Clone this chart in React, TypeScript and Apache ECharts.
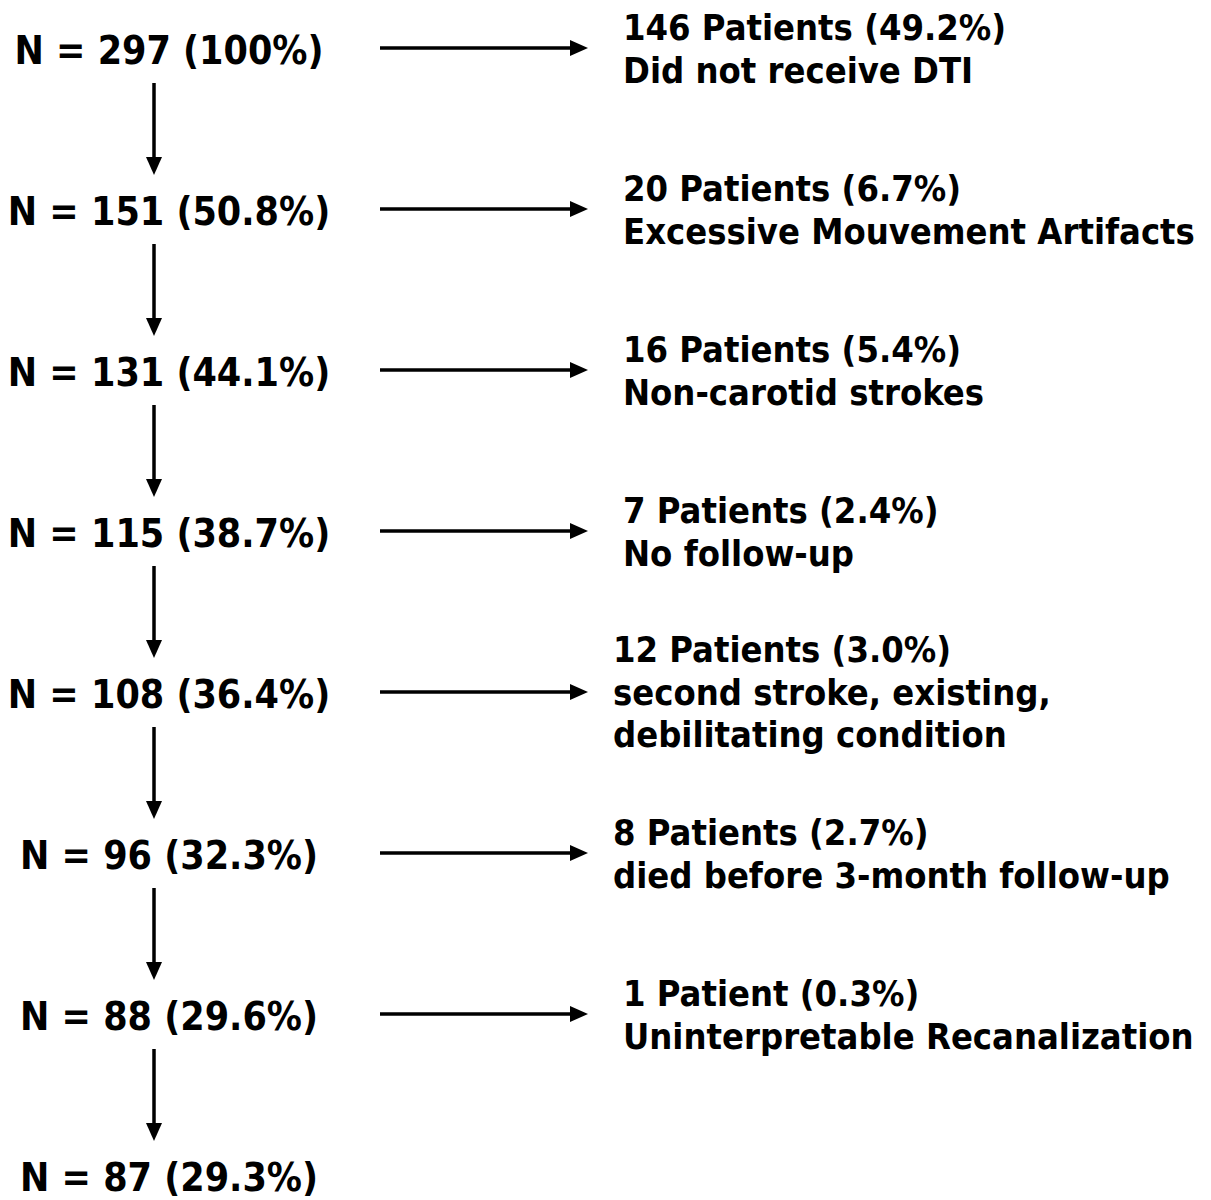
import React, { useEffect, useRef } from "react";
import * as echarts from "echarts";

// ---- data ----
const remainingN: number[] = [297, 151, 131, 115, 108, 96, 88, 87];
const remainingPct: string[] = ["100%", "50.8%", "44.1%", "38.7%", "36.4%", "32.3%", "29.6%", "29.3%"];
const excludedN: number[] = [146, 20, 16, 7, 12, 8, 1];
const excludedPct: string[] = ["49.2%", "6.7%", "5.4%", "2.4%", "3.0%", "2.7%", "0.3%"];
const excludedReason: string[] = [
  "Did not receive DTI",
  "Excessive Mouvement Artifacts",
  "Non-carotid strokes",
  "No follow-up",
  "second stroke, existing,\ndebilitating condition",
  "died before 3-month follow-up",
  "Uninterpretable Recanalization",
];

// ---- layout ----
const FONT = "'DejaVu Sans Condensed', 'DejaVu Sans', sans-serif";
const LEFT_FONT_SIZE = 39;
const RIGHT_FONT_SIZE = 36;
const ROW_Y0 = 50;
const ROW_STEP = 161;
const LEFT_CX = 169;
const VARROW_X = 154;
const HARROW_X1 = 380;
const HARROW_X2 = 588;
const RIGHT_X_DEFAULT = 623;
const RIGHT_X_SHIFTED = 613;
const LINE_H = 42.5;

export default function App() {
  const ref = useRef<HTMLDivElement>(null);

  useEffect(() => {
    if (!ref.current) return;
    const chart = echarts.init(ref.current, null, { renderer: "svg" });
    const elements: any[] = [];
    const black = "#000";

    remainingN.forEach((n, i) => {
      const y = ROW_Y0 + i * ROW_STEP;
      elements.push({
        type: "text",
        x: LEFT_CX,
        y,
        style: {
          text: `N = ${n} (${remainingPct[i]})`,
          font: `bold ${LEFT_FONT_SIZE}px ${FONT}`,
          fill: black,
          align: "center",
          verticalAlign: "middle",
        },
      });
      if (i < remainingN.length - 1) {
        const yStart = y + 33;
        const yTip = y + ROW_STEP - 36;
        elements.push({
          type: "line",
          shape: { x1: VARROW_X, y1: yStart, x2: VARROW_X, y2: yTip - 14 },
          style: { stroke: black, lineWidth: 3.5 },
        });
        elements.push({
          type: "polygon",
          shape: {
            points: [
              [VARROW_X - 8, yTip - 18],
              [VARROW_X + 8, yTip - 18],
              [VARROW_X, yTip],
            ],
          },
          style: { fill: black },
        });
      }
    });

    excludedN.forEach((n, i) => {
      const ay = ROW_Y0 + i * ROW_STEP - 2;
      elements.push({
        type: "line",
        shape: { x1: HARROW_X1, y1: ay, x2: HARROW_X2 - 14, y2: ay },
        style: { stroke: black, lineWidth: 3.5 },
      });
      elements.push({
        type: "polygon",
        shape: {
          points: [
            [HARROW_X2 - 18, ay - 8],
            [HARROW_X2 - 18, ay + 8],
            [HARROW_X2, ay],
          ],
        },
        style: { fill: black },
      });
      const label = `${n} Patient${n === 1 ? "" : "s"} (${excludedPct[i]})\n${excludedReason[i]}`;
      const shifted = i === 4 || i === 5;
      const lines = label.split("\n").length;
      const centerOffset = lines === 2 ? 1 : 0;
      elements.push({
        type: "text",
        x: shifted ? RIGHT_X_SHIFTED : RIGHT_X_DEFAULT,
        y: ay + centerOffset,
        style: {
          text: label,
          font: `bold ${RIGHT_FONT_SIZE}px ${FONT}`,
          fill: black,
          align: "left",
          verticalAlign: "middle",
          lineHeight: LINE_H,
        },
      });
    });

    chart.setOption({
      animation: false,
      backgroundColor: "#fff",
      graphic: { elements },
    });
    return () => chart.dispose();
  }, []);

  return (
    <div
      ref={ref}
      style={{ position: "absolute", left: 0, top: 0, width: 1211, height: 1200 }}
    />
  );
}
